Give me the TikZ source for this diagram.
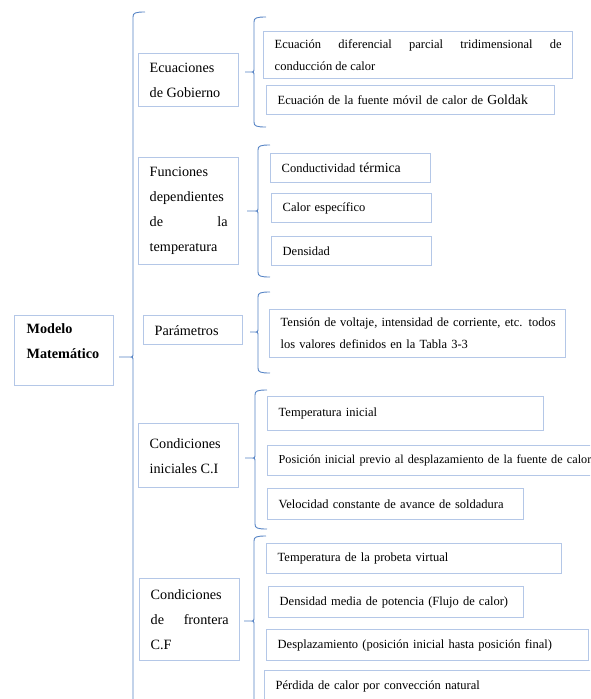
\documentclass[tikz,border=0pt]{standalone}
\usepackage{fontspec}
\setmainfont{Liberation Serif}
\hyphenpenalty=10000
\definecolor{boxblue}{RGB}{180,199,231}
\definecolor{braceblue}{RGB}{84,130,196}
\newcommand{\topicfont}{\fontsize{14.2}{25}\selectfont}
\newcommand{\itemfont}{\fontsize{12.5}{22}\selectfont}
\newcommand{\bigword}[1]{{\fontsize{13.8}{22}\selectfont #1}}
\tikzstyle{box}=[draw=boxblue, line width=1.4pt, anchor=north west, inner ysep=0pt]
\tikzstyle{root box}=[box, font=\topicfont\bfseries, inner xsep=12pt, align=left]
\tikzstyle{topic box}=[box, font=\topicfont, inner xsep=11pt, align=justify]
\tikzstyle{item box}=[box, font=\itemfont, inner xsep=11pt, align=left]
\tikzstyle{brace}=[draw=braceblue, line width=0.9pt]

\begin{document}
\begin{tikzpicture}[x=1pt, y=-1pt]
    \clip (0,0) rectangle (590,699);
    % Draw the root
    \node[root box, minimum width=99pt, minimum height=70pt, text width=75pt, text depth=44pt] (modelo) at (14,315)
        {Modelo\\Matemático};
    % Second level: the parts of the model
    \foreach \pos/\name/\w/\h/\txt in {
        {(138,53)/gob/100/53/Ecuaciones de Gobierno},
        {(138,157)/fun/100/107/Funciones dependientes de la temperatura},
        {(143,315)/par/99/29/Parámetros},
        {(138,423)/ci/100/64/Condiciones iniciales C.I},
        {(139,578)/cf/100/82/Condiciones de frontera C.F}}
    {\pgfmathsetmacro\tw{\w-22}
     \node[topic box, minimum width=\w pt, minimum height=\h pt, text width=\tw pt] (\name) at \pos {\txt};}
    % Third level: the details
    \node[item box, align=justify, minimum width=309pt, minimum height=47pt, text width=287pt] (ecu) at (263,31)
        {Ecuación diferencial parcial tridimensional de\linebreak conducción de calor};
    \foreach \pos/\name/\w/\h/\txt in {
        {(266,85)/gol/288/29/{Ecuación de la fuente móvil de calor de \bigword{Goldak}}},
        {(270,153)/con/160/29/{Conductividad \bigword{térmica}}},
        {(271,193)/esp/160/29/Calor específico},
        {(271,236)/den/160/29/Densidad},
        {(269,309)/ten/296/48/{\mbox{Tensión de voltaje, intensidad de corriente, etc. todos}\\los valores definidos en la Tabla 3-3}},
        {(267,396)/tin/276/34/Temperatura inicial},
        {(267,445)/pos/360/30/{\fontsize{12.2}{22}\selectfont\mbox{Posición inicial previo al desplazamiento de la fuente de calor}}},
        {(267,488)/vel/256/31/Velocidad constante de avance de soldadura},
        {(266,543)/pro/295/30/Temperatura de la probeta virtual},
        {(268,586)/pot/255/31/Densidad media de potencia (Flujo de calor)},
        {(266,629)/des/322/31/Desplazamiento (posición inicial hasta posición final)},
        {(264,670)/per/360/32/Pérdida de calor por convección natural}}
    {\pgfmathsetmacro\tw{\w-22}
     \node[item box, minimum width=\w pt, minimum height=\h pt, text width=\tw pt] (\name) at \pos {\txt};}
    % Braces grouping the boxes
    \foreach \name/\x/\top/\bot/\mid/\tip in {
        main/133/12/720/357/119, gobb/254/17/127/72/245, funb/258/145/277/211/247,
        parb/258/292/373/332/250, cib/255/390/529/458/245, cfb/254/536/720/621/244}
    {\coordinate (\name tip) at (\tip,\mid);
     \path[brace] (\x+12,\top) .. controls (\x+2,\top) and (\x,\top+1) .. (\x,\top+5)
        -- (\x,\mid-4) .. controls (\x,\mid) .. (\x-4,\mid) -- (\name tip)
        -- (\x-4,\mid) .. controls (\x,\mid) .. (\x,\mid+4)
        -- (\x,\bot-5) .. controls (\x,\bot-1) and (\x+2,\bot) .. (\x+12,\bot);}
\end{tikzpicture}
\end{document}
